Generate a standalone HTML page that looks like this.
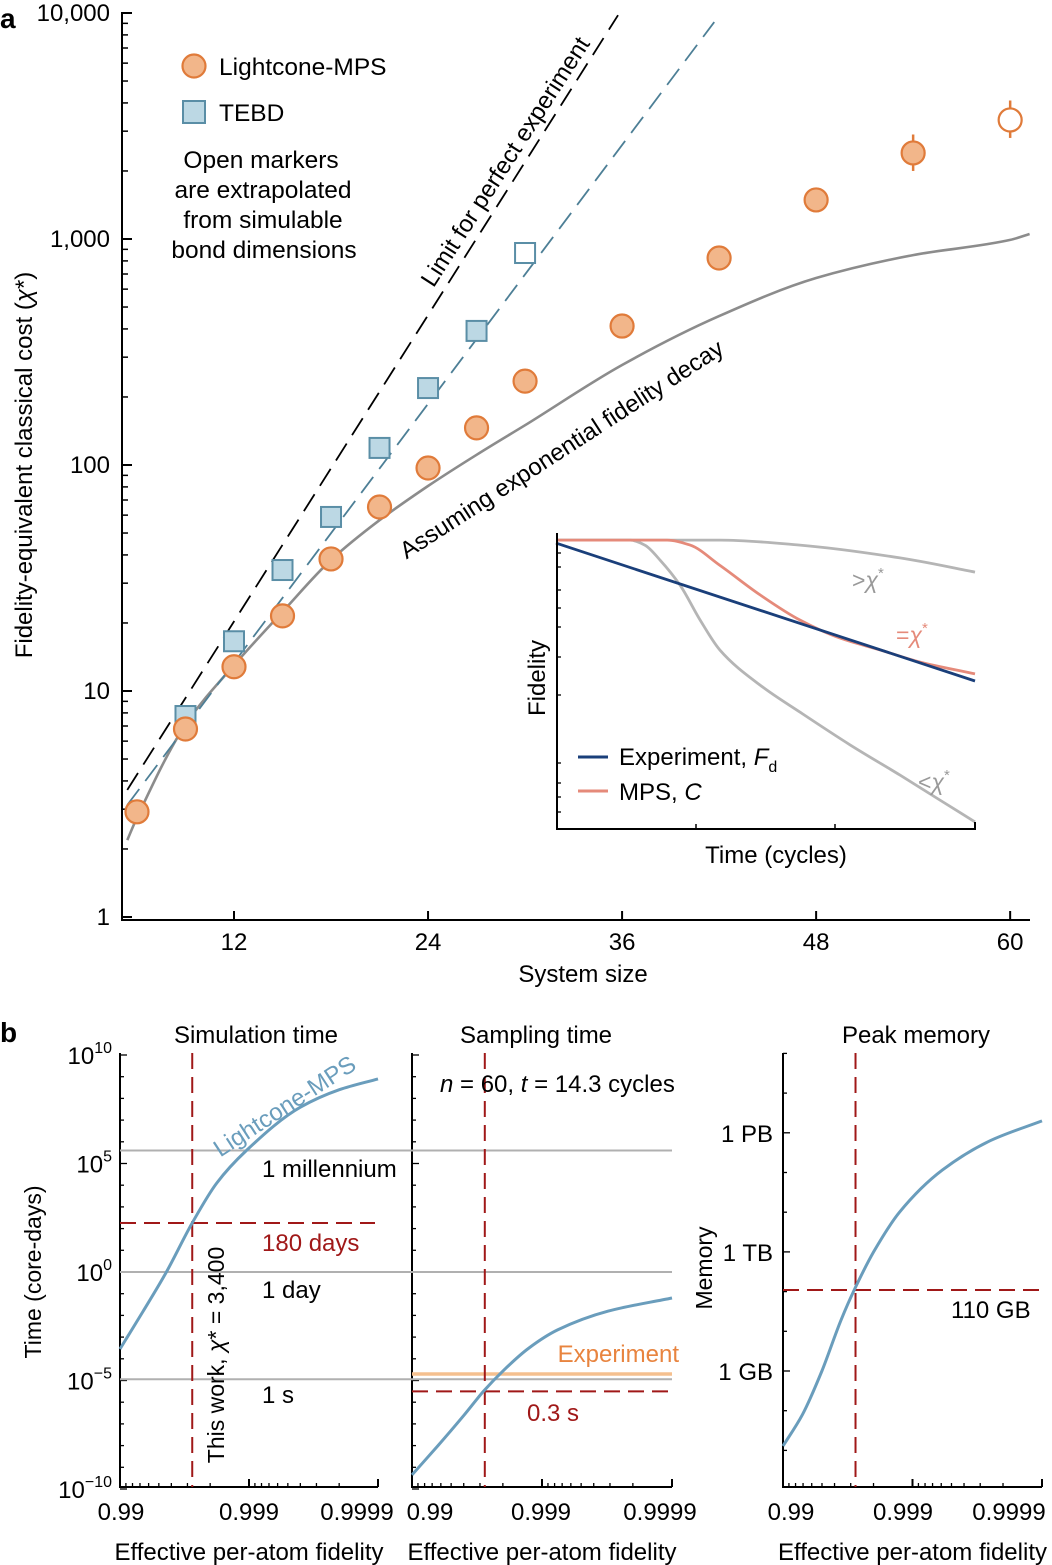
<!DOCTYPE html>
<html><head><meta charset="utf-8"><style>
html,body{margin:0;padding:0;background:#fff;}
svg{display:block;font-family:"Liberation Sans",sans-serif;}
</style></head><body>
<svg id="fig" width="1052" height="1565" viewBox="0 0 1052 1565" xmlns="http://www.w3.org/2000/svg">
<g id="pa">
  <text x="0" y="28" font-size="28" font-weight="bold">a</text>
  <g id="pa-axes"></g>
  <text transform="translate(32,465) rotate(-90)" text-anchor="middle" font-size="24">Fidelity-equivalent classical cost (<tspan font-style="italic">χ</tspan>*)</text>
  <text x="583" y="982" text-anchor="middle" font-size="24">System size</text>
  <g id="pa-marks"></g>
  <text transform="translate(512,166) rotate(-57.3)" text-anchor="middle" font-size="24">Limit for perfect experiment</text>
  <text transform="translate(566,456) rotate(-33)" text-anchor="middle" font-size="24">Assuming exponential fidelity decay</text>
  <g>
    <circle cx="194" cy="66" r="11.5" fill="#f2b68a" stroke="#e07b3a" stroke-width="2.2"/>
    <text x="219" y="75" font-size="24.5">Lightcone-MPS</text>
    <rect x="183" y="101" width="22" height="22" fill="#bcd8e4" stroke="#5a8ea6" stroke-width="2"/>
    <text x="219" y="121" font-size="24.5">TEBD</text>
    <text x="262" y="167" text-anchor="middle" font-size="24.5"><tspan x="261" y="168">Open markers</tspan><tspan x="263" y="198">are extrapolated</tspan><tspan x="263" y="228">from simulable</tspan><tspan x="264" y="258">bond dimensions</tspan></text>
  </g>
  <g id="inset">
    <rect x="556" y="533" width="420" height="297" fill="#fff"/>
    <g id="inset-marks"></g>
    <text transform="translate(545,678) rotate(-90)" text-anchor="middle" font-size="24">Fidelity</text>
    <text x="776" y="863" text-anchor="middle" font-size="24">Time (cycles)</text>
    <line x1="578" y1="757" x2="608" y2="757" stroke="#1a3f7a" stroke-width="3"/>
    <line x1="578" y1="791" x2="608" y2="791" stroke="#e58a7a" stroke-width="3"/>
    <text x="619" y="765" font-size="24">Experiment, <tspan font-style="italic">F</tspan><tspan font-size="16" dy="7">d</tspan></text>
    <text x="619" y="800" font-size="24">MPS, <tspan font-style="italic">C</tspan></text>
    <text x="852" y="588" font-size="23" fill="#999">&gt;<tspan font-style="italic">χ</tspan><tspan font-size="15" dy="-10">*</tspan></text>
    <text x="896" y="643" font-size="23" fill="#e58a7a">=<tspan font-style="italic">χ</tspan><tspan font-size="15" dy="-10">*</tspan></text>
    <text x="918" y="790" font-size="23" fill="#999">&lt;<tspan font-style="italic">χ</tspan><tspan font-size="15" dy="-10">*</tspan></text>
  </g>
</g>
<g id="pb">
  <text x="0" y="1042" font-size="28" font-weight="bold">b</text>
  <text x="256" y="1043" text-anchor="middle" font-size="24">Simulation time</text>
  <text x="536" y="1043" text-anchor="middle" font-size="24">Sampling time</text>
  <text x="916" y="1043" text-anchor="middle" font-size="24">Peak memory</text>
  <text transform="translate(41,1272) rotate(-90)" text-anchor="middle" font-size="23">Time (core-days)</text>
  <text transform="translate(712,1268) rotate(-90)" text-anchor="middle" font-size="23">Memory</text>
  <g id="pb-axes"></g>
  <g id="pb-marks"></g>
  <rect x="258" y="1154" width="150" height="28" fill="#fff"/>
  <text x="262" y="1177" font-size="24">1 millennium</text>
  <text x="262" y="1251" font-size="24" fill="#a01818">180 days</text>
  <text x="262" y="1298" font-size="24">1 day</text>
  <text x="262" y="1403" font-size="24">1 s</text>
  <text transform="translate(224,1355) rotate(-90)" text-anchor="middle" font-size="23">This work, <tspan font-style="italic">χ</tspan>* = 3,400</text>
  <text transform="translate(289,1113) rotate(-33)" text-anchor="middle" font-size="24" fill="#6a9dbc">Lightcone-MPS</text>
  <text x="440" y="1092" font-size="24"><tspan font-style="italic">n</tspan> = 60, <tspan font-style="italic">t</tspan> = 14.3 cycles</text>
  <text x="679" y="1362" text-anchor="end" font-size="24" fill="#e8843f">Experiment</text>
  <text x="527" y="1421" font-size="24" fill="#a01818">0.3 s</text>
  <text x="951" y="1318" font-size="24">110 GB</text>
</g>
</svg>
<script>
// ---- Panel a data ----
const sizesLC = [6, 9, 12, 15, 18, 21, 24, 27, 30, 36, 42, 48, 54, 60];
const costLC = [2.92, 6.79, 12.8, 21.5, 38.4, 65.2, 97, 146, 235, 412, 824, 1489, 2403, 3363];
const openLC = [0,0,0,0,0,0,0,0,0,0,0,0,0,1];
const errLoLC = [0,0,0,0,0,0,0,0,0,0,760,0,2000,2800];
const errHiLC = [0,0,0,0,0,0,0,0,0,0,900,0,2900,4100];
const sizesTEBD = [9, 12, 15, 18, 21, 24, 27, 30];
const costTEBD = [7.75, 16.6, 34.3, 58.9, 119, 219, 392, 867];
const openTEBD = [0,0,0,0,0,0,0,1];
const decaySizes = [5.4, 6, 9, 12, 15, 18, 21, 24, 27, 30, 36, 42, 48, 54, 60, 61.2];
const decayCost = [2.19, 2.75, 7.1, 13.0, 22.4, 38, 57, 80.7, 111, 150, 277, 456, 672, 849, 991, 1052];
const limitSizes = [5.4, 35.75];
const limitCost = [3.65, 9780];
const tebdFitSizes = [5.4, 41.7];
const tebdFitCost = [3.13, 9120];
const xTicksA = [12, 24, 36, 48, 60];
const yTicksA = [1, 10, 100, 1000, 10000];
const yTickLabelsA = ["1", "10", "100", "1,000", "10,000"];
// ---- Inset data (normalized time / fidelity) ----
const insetExpT = [0, 1];
const insetExpF = [0.966, 0.5];
const insetMpsT = [0, 0.265, 0.32, 0.39, 0.487, 0.582, 0.678, 0.773, 0.869, 1.0];
const insetMpsF = [0.976, 0.976, 0.959, 0.892, 0.791, 0.706, 0.645, 0.605, 0.564, 0.524];
const insetHiT = [0, 0.392, 0.582, 0.821, 1];
const insetHiF = [0.976, 0.976, 0.959, 0.916, 0.868];
const insetLoT = [0.005, 0.177, 0.212, 0.248, 0.296, 0.344, 0.391, 0.487, 0.582, 0.702, 0.821, 0.916, 1];
const insetLoF = [0.976, 0.976, 0.959, 0.909, 0.824, 0.706, 0.605, 0.486, 0.395, 0.284, 0.182, 0.098, 0.024];
// ---- Panel b data (x as number of nines, -log10(1-F)) ----
const simNines = [2, 2.18, 2.36, 2.56, 2.75, 2.98, 3.4, 3.7, 4];
const simLogTime = [-3.55, -1.8, 0, 2.26, 4.1, 5.6, 7.6, 8.4, 8.9];
const sampNines = [2.0, 2.2, 2.4, 2.55, 2.71, 2.9, 3.12, 3.51, 4.0];
const sampLogTime = [-9.35, -8.0, -6.6, -5.5, -4.5, -3.5, -2.67, -1.8, -1.2];
const memNines = [2, 2.15, 2.3, 2.45, 2.55, 2.7, 2.9, 3.23, 3.6, 4];
const memLogBytes = [7.11, 7.9, 9.0, 10.3, 11.04, 12.0, 13.0, 14.06, 14.8, 15.3];
const thisWorkNines = 2.56;
const refLogTimes = [5.6, 0, -4.94];
const simThisWorkLog = 2.26;
const sampThisWorkLog = -5.5;
const expSampLog = -4.7;
const memThisWorkLog = 11.04;
const timeTickExp = [10, 5, 0, -5, -10];
const memTickLog = [15, 12, 9];
const memTickLabels = ["1 PB", "1 TB", "1 GB"];
const fidTickNines = [2, 3, 4];
const fidTickLabels = ["0.99", "0.999", "0.9999"];

const NS = "http://www.w3.org/2000/svg";
function mk(parent, tag, attrs){ const e=document.createElementNS(NS,tag); for(const k in attrs) e.setAttribute(k,attrs[k]); parent.appendChild(e); return e; }
// monotone cubic (Fritsch-Carlson) path in pixel coords, x increasing
function smooth(pts){
  const n=pts.length;
  if(n<3) return "M"+pts.map(p=>p[0].toFixed(1)+","+p[1].toFixed(1)).join(" L");
  const dx=[],s=[];
  for(let i=0;i<n-1;i++){dx.push(pts[i+1][0]-pts[i][0]); s.push((pts[i+1][1]-pts[i][1])/dx[i]);}
  const m=[s[0]];
  for(let i=1;i<n-1;i++){ if(s[i-1]*s[i]<=0) m.push(0); else { const w1=2*dx[i]+dx[i-1], w2=dx[i]+2*dx[i-1]; m.push((w1+w2)/(w1/s[i-1]+w2/s[i])); } }
  m.push(s[n-2]);
  let d="M"+pts[0][0].toFixed(1)+","+pts[0][1].toFixed(1);
  for(let i=0;i<n-1;i++){
    const h=dx[i]/3;
    d+=" C"+(pts[i][0]+h).toFixed(1)+","+(pts[i][1]+m[i]*h).toFixed(1)+" "+(pts[i+1][0]-h).toFixed(1)+","+(pts[i+1][1]-m[i+1]*h).toFixed(1)+" "+pts[i+1][0].toFixed(1)+","+pts[i+1][1].toFixed(1);
  }
  return d;
}
const ax = n => 234 + (n-12)*16.17;
const ay = v => 917 - 226*Math.log10(v);
const ix = t => 556 + 419*t;
const iy = f => 829 - 296*f;
const b1x = d => 120 + 129*(d-2);
const b2x = d => 412 + 130*(d-2);
const b3x = d => 783 + 129.5*(d-2);
const by = e => 1272 - 21.7*e;
const b3y = l => 1371 - 39.7*(l-9);

// ---- Panel a axes ----
const pa = document.getElementById("pa-axes");
let el = mk(pa,"line",{x1:122,y1:12,x2:122,y2:920,stroke:"#000","stroke-width":2});
 
el = mk(pa,"line",{x1:121,y1:920,x2:1030,y2:920,stroke:"#000","stroke-width":2});
 
for(let dec=0; dec<4; dec++){
  for(let m=2;m<=9;m++){
    const y=ay(m*Math.pow(10,dec));
    el = mk(pa,"line",{x1:122,y1:y,x2:128,y2:y,stroke:"#000","stroke-width":1.5});
     
  }
}
yTicksA.forEach((v,i)=>{
  const y=ay(v);
  el = mk(pa,"line",{x1:122,y1:y,x2:132,y2:y,stroke:"#000","stroke-width":2});
   
  el = mk(pa,"text",{x:110,y:y+8,"text-anchor":"end","font-size":24});
  el.textContent = yTickLabelsA[i];
   
});
xTicksA.forEach(n=>{
  const x=ax(n);
  el = mk(pa,"line",{x1:x,y1:920,x2:x,y2:911,stroke:"#000","stroke-width":2});
   
  el = mk(pa,"text",{x:x,y:950,"text-anchor":"middle","font-size":24});
  el.textContent = String(n);
   
});
// ---- Panel a marks ----
const pm = document.getElementById("pa-marks");
el = mk(pm,"path",{d:smooth(decaySizes.map((n,i)=>[ax(n),ay(decayCost[i])])),fill:"none",stroke:"#8c8c8c","stroke-width":2.6});
 
el = mk(pm,"line",{x1:ax(limitSizes[0]),y1:ay(limitCost[0]),x2:ax(limitSizes[1]),y2:ay(limitCost[1]),stroke:"#000","stroke-width":1.8,"stroke-dasharray":"20 10"});
 
el = mk(pm,"line",{x1:ax(tebdFitSizes[0]),y1:ay(tebdFitCost[0]),x2:ax(tebdFitSizes[1]),y2:ay(tebdFitCost[1]),stroke:"#4d7f96","stroke-width":1.8,"stroke-dasharray":"20 10"});
 
sizesTEBD.forEach((n,i)=>{
  const x=ax(n), y=ay(costTEBD[i]);
  el = mk(pm,"rect",{x:x-10,y:y-10,width:20,height:20,fill:openTEBD[i]?"#fff":"#bcd8e4",stroke:"#5a8ea6","stroke-width":2});
   
});
sizesLC.forEach((n,i)=>{
  const x=ax(n), y=ay(costLC[i]);
  if(errLoLC[i]){
    el = mk(pm,"line",{x1:x,y1:ay(errLoLC[i]),x2:x,y2:ay(errHiLC[i]),stroke:"#e07b3a","stroke-width":2.5});
     
  }
  el = mk(pm,"circle",{cx:x,cy:y,r:11.5,fill:openLC[i]?"#fff":"#f2b68a",stroke:"#e07b3a","stroke-width":2.2});
   
});
// ---- Inset ----
const im = document.getElementById("inset-marks");
[[insetHiT,insetHiF,"#b5b5b5","inset-high-chi-line"],[insetLoT,insetLoF,"#b5b5b5","inset-low-chi-line"],[insetMpsT,insetMpsF,"#e58a7a","inset-mps-line"],[insetExpT,insetExpF,"#1a3f7a","inset-experiment-line"]].forEach(s=>{
  el = mk(im,"path",{d:smooth(s[0].map((t,i)=>[ix(t),iy(s[1][i])])),fill:"none",stroke:s[2],"stroke-width":2.8});
   
});
el = mk(im,"polyline",{points:"557,533 557,829 975,829 975,822",fill:"none",stroke:"#000","stroke-width":2});
 
[553,567,590,608,627,657,695,763,783,797,812].forEach(y=>{
  el = mk(im,"line",{x1:557,y1:y,x2:561,y2:y,stroke:"#000","stroke-width":1.3});
   
});
[696,835].forEach(x=>{
  el = mk(im,"line",{x1:x,y1:829,x2:x,y2:824,stroke:"#000","stroke-width":1.5});
   
});
// ---- Panel b axes ----
const pbA = document.getElementById("pb-axes");
const pbM = document.getElementById("pb-marks");
function fidAxis(sx, x0, x1, labelX){
  el = mk(pbA,"line",{x1:x0,y1:1487,x2:x1,y2:1487,stroke:"#000","stroke-width":2});
   
  for(let dec=2; dec<4; dec++){
    for(let k=1;k<10;k++){
      const d = -Math.log10(Math.pow(10,-dec) - k*Math.pow(10,-dec-1));
      const x=sx(d);
      el = mk(pbA,"line",{x1:x,y1:1487,x2:x,y2:1483,stroke:"#000","stroke-width":1.3});
       
    }
  }
  fidTickNines.forEach((d,i)=>{
    const x=sx(d);
    el = mk(pbA,"line",{x1:x,y1:1487,x2:x,y2:1479,stroke:"#000","stroke-width":2});
     
    el = mk(pbA,"text",{x:labelX[i],y:1520,"text-anchor":"middle","font-size":24});
    el.textContent = fidTickLabels[i];
     
  });
  el = mk(pbA,"text",{x:(x0+x1)/2,y:1560,"text-anchor":"middle","font-size":24});
  el.textContent = "Effective per-atom fidelity";
   
}
fidAxis(b1x,120,378,[121,249,357]); fidAxis(b2x,412,672,[430,541,660]); fidAxis(b3x,783,1042,[791,903,1009]);
[120,412].forEach(x=>{
  el = mk(pbA,"line",{x1:x,y1:1053,x2:x,y2:1488,stroke:"#000","stroke-width":2});
   
  for(let e=-10;e<=10;e++){
    el = mk(pbA,"line",{x1:x,y1:by(e),x2:x+(e%5===0?7:4),y2:by(e),stroke:"#000","stroke-width":1.3});
     
  }
});
timeTickExp.forEach(e=>{
  el = mk(pbA,"text",{x:112,y:by(e)+9,"text-anchor":"end","font-size":24});
  el.textContent = "10";
  const ts = document.createElementNS(NS,"tspan");
  ts.setAttribute("font-size","16"); ts.setAttribute("dy","-11");
  ts.textContent = e<0 ? "\u2212"+(-e) : String(e);
  el.appendChild(ts);
   
});
el = mk(pbA,"line",{x1:783,y1:1053,x2:783,y2:1488,stroke:"#000","stroke-width":2});
 
for(let l=6;l<=17;l++){
  const y=b3y(l); if(y<1053||y>1487) continue;
  el = mk(pbA,"line",{x1:783,y1:y,x2:783+(l%3===0?7:4),y2:y,stroke:"#000","stroke-width":1.3});
   
}
memTickLog.forEach((l,i)=>{
  el = mk(pbA,"text",{x:773,y:b3y(l)+9,"text-anchor":"end","font-size":24});
  el.textContent = memTickLabels[i];
   
});
refLogTimes.forEach(e=>{
  el = mk(pbM,"line",{x1:120,y1:by(e),x2:672,y2:by(e),stroke:"#b0b0b0","stroke-width":2});
   
});
el = mk(pbM,"line",{x1:412,y1:by(expSampLog),x2:672,y2:by(expSampLog),stroke:"#f5c08f","stroke-width":3.5});
 
const dash = {stroke:"#a01818","stroke-width":2,"stroke-dasharray":"16 8",fill:"none"};
[[b1x,simThisWorkLog,by,120,375],[b2x,sampThisWorkLog,by,412,668],[b3x,memThisWorkLog,b3y,783,1040]].forEach(s=>{
  el = mk(pbM,"line",Object.assign({x1:s[0](thisWorkNines),y1:1053,x2:s[0](thisWorkNines),y2:1487},dash));
   
  el = mk(pbM,"line",Object.assign({x1:s[3],y1:s[2](s[1]),x2:s[4],y2:s[2](s[1])},dash));
   
});
el = mk(pbM,"path",{d:smooth(simNines.map((d,i)=>[b1x(d),by(simLogTime[i])])),fill:"none",stroke:"#6a9dbc","stroke-width":3});
 
el = mk(pbM,"path",{d:smooth(sampNines.map((d,i)=>[b2x(d),by(sampLogTime[i])])),fill:"none",stroke:"#6a9dbc","stroke-width":3});
 
el = mk(pbM,"path",{d:smooth(memNines.map((d,i)=>[b3x(d),b3y(memLogBytes[i])])),fill:"none",stroke:"#6a9dbc","stroke-width":3});
 
</script>
</body></html>
